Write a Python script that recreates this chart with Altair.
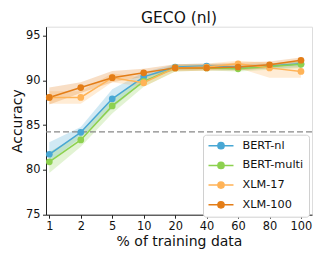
import altair as alt
import pandas as pd

pcts = ["1", "2", "5", "10", "20", "40", "60", "80", "100"]
series = ["BERT-nl", "BERT-multi", "XLM-17", "XLM-100"]
colors = ["#48a7d4", "#8dd14f", "#ffb357", "#e37d17"]

mean = {
    "BERT-nl":    [81.75, 84.2, 87.95, 90.4, 91.5, 91.6, 91.5, 91.6, 91.85],
    "BERT-multi": [80.9, 83.35, 87.15, 89.9, 91.4, 91.4, 91.3, 91.55, 91.8],
    "XLM-17":     [88.1, 88.1, 90.3, 89.75, 91.4, 91.5, 91.85, 91.4, 91.0],
    "XLM-100":    [88.1, 89.2, 90.3, 90.85, 91.4, 91.4, 91.5, 91.75, 92.25],
}
low = {
    "BERT-nl":    [80.9, 83.6, 86.9, 89.9, 91.2, 91.3, 91.2, 91.3, 91.5],
    "BERT-multi": [79.65, 82.6, 86.3, 89.3, 91.0, 91.1, 91.0, 91.2, 91.4],
    "XLM-17":     [87.4, 87.4, 89.8, 89.3, 91.0, 91.1, 91.4, 90.3, 90.3],
    "XLM-100":    [87.3, 88.6, 89.8, 90.4, 91.1, 91.1, 91.1, 91.4, 91.9],
}
high = {
    "BERT-nl":    [83.1, 84.8, 89.0, 90.9, 91.8, 91.9, 91.8, 91.9, 92.2],
    "BERT-multi": [82.0, 84.0, 87.9, 90.4, 91.7, 91.7, 91.6, 91.8, 92.1],
    "XLM-17":     [88.8, 88.8, 90.8, 90.3, 91.8, 91.9, 92.2, 92.0, 91.6],
    "XLM-100":    [89.2, 89.8, 91.05, 91.3, 91.8, 91.8, 92.0, 92.1, 92.55],
}
baseline = 84.25

rows = []
for s in series:
    for i, p in enumerate(pcts):
        rows.append({"series": s, "idx": i, "pct": p,
                     "mean": mean[s][i], "lo": low[s][i], "hi": high[s][i]})
df = pd.DataFrame(rows)

font = "DejaVu Sans"
label_expr = "[" + ",".join("'%s'" % p for p in pcts) + "][datum.value]"

xenc = alt.X("idx:Q",
             scale=alt.Scale(domain=[-0.105, 8.35], nice=False, zero=False),
             axis=alt.Axis(values=list(range(len(pcts))), labelExpr=label_expr,
                           title="% of training data", grid=False,
                           tickSize=3.5, labelPadding=2.5, titlePadding=2,
                           domainColor="#222222", tickColor="#222222",
                           labelColor="#111111", titleColor="#111111",
                           labelFont=font, titleFont=font,
                           labelFontSize=11.4, titleFontSize=14,
                           titleFontWeight="normal"))
yscale = alt.Scale(domain=[75, 96], nice=False, zero=False)
yaxis = alt.Axis(values=[75, 80, 85, 90, 95], title="Accuracy", grid=False,
                 tickSize=3.5, labelPadding=2.5, titlePadding=1,
                 domainColor="#222222", tickColor="#222222",
                 labelColor="#111111", titleColor="#111111",
                 labelFont=font, titleFont=font,
                 labelFontSize=11.4, titleFontSize=14,
                 titleFontWeight="normal")

legend_path = ("M-2.5,0 L2.5,0 "
               "M-0.62,0 A0.62,0.62 0 1,0 0.62,0 A0.62,0.62 0 1,0 -0.62,0 Z")

color = alt.Color("series:N", scale=alt.Scale(domain=series, range=colors),
                  sort=series,
                  legend=alt.Legend(
                      title=None, orient="none", legendX=157, legendY=108,
                      symbolType=legend_path, symbolSize=100,
                      symbolStrokeWidth=1.5, symbolOffset=7,
                      symbolOpacity=1,
                      labelOffset=15.5, labelFont=font, labelFontSize=11.3,
                      labelColor="#111111", rowPadding=5.7,
                      padding=5, strokeColor="#d0d0d0", fillColor="white",
                      cornerRadius=3))

base = alt.Chart(df)

bands = base.mark_area(opacity=0.25).encode(
    x=xenc,
    y=alt.Y("lo:Q", scale=yscale, axis=yaxis),
    y2="hi:Q",
    color=color,
    detail="series:N",
)

lines = base.mark_line(strokeWidth=1.5).encode(
    x=xenc,
    y=alt.Y("mean:Q", scale=yscale),
    color=color,
)

points = base.mark_circle(size=45, opacity=1).encode(
    x=xenc,
    y=alt.Y("mean:Q", scale=yscale),
    color=color,
)

ref = alt.Chart(pd.DataFrame({"y": [baseline]})).mark_rule(
    color="#888888", strokeDash=[6, 3], strokeWidth=1.3
).encode(y=alt.Y("y:Q", scale=yscale))

chart = alt.layer(bands, ref, lines, points).properties(
    width=266, height=188,
    title=alt.TitleParams("GECO (nl)", font=font, fontSize=15.5,
                          fontWeight="normal", color="#111111",
                          anchor="middle", baseline="alphabetic",
                          frame="group", offset=5, dy=17),
    autosize=alt.AutoSizeParams(type="none"),
    padding={"left": 38, "top": 18.7, "right": 4, "bottom": 36},
).configure_view(stroke=None).configure(background="white")

chart.save("out.html", embed_options={"renderer": "svg", "actions": False})
